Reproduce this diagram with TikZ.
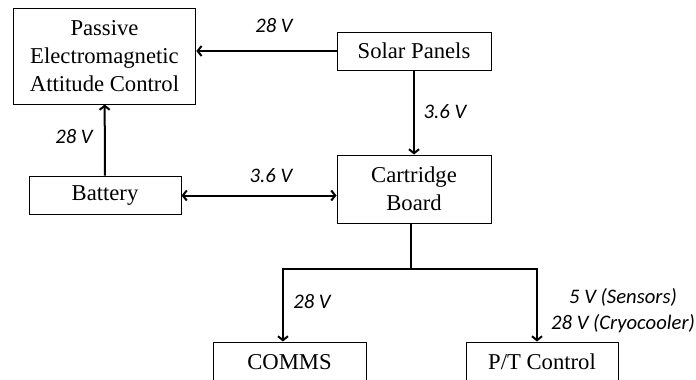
\documentclass[tikz,border=0pt]{standalone}
\usepackage{fontspec}
\setmainfont{Liberation Serif}
\newfontfamily\voltfont{Carlito}
\usetikzlibrary{arrows.meta}
\tikzset{
  block/.style={draw, line width=0.75pt, font=\fontsize{17}{21}\selectfont, align=center, inner sep=0pt},
  feed/.style={line width=1.5pt, -{Straight Barb[length=3pt, width=7.5pt]}},
  volt/.style={font=\voltfont\itshape\fontsize{15.5}{19.5}\selectfont, align=center}
}

\begin{document}
\begin{tikzpicture}[x=0.75pt, y=-0.75pt]
    \useasboundingbox (0,0) rectangle (696,379);

    % Blocks
    \node[block, minimum width=137pt, minimum height=72pt] (peac) at (104.5,56) {Passive\\Electromagnetic\\Attitude Control};
    \node[block, minimum width=115.5pt, minimum height=28.5pt] (sp) at (414,51) {Solar Panels};
    \node[block, minimum width=114pt, minimum height=29pt] (batt) at (105,195.5) {Battery};
    \node[block, minimum width=115.5pt, minimum height=51pt] (cb) at (414,189) {Cartridge\\Board};
    \node[block, minimum width=114.75pt, minimum height=30pt] (comms) at (289.5,362) {COMMS};
    \node[block, minimum width=114pt, minimum height=30pt] (pt) at (542,362) {P/T Control};

    % Power lines
    \draw[feed] (sp.west) -- (sp.west -| peac.east);
    \draw[feed] (sp) -- (cb);
    \draw[feed] (batt) -- (peac);
    \draw[feed, {Straight Barb[length=3pt, width=7.5pt]}-{Straight Barb[length=3pt, width=7.5pt]}] (batt.east) -- (batt.east -| cb.west);
    \coordinate (split) at (411,269);
    \draw[line width=1.5pt] (cb.south -| split) -- (split);
    \draw[feed] (split) -| ([xshift=-4.9pt]comms.north);
    \draw[feed] (split) -| ([xshift=-3.75pt]pt.north);

    % Voltages
    \node[volt] (v1) at (274,26) {28 V};
    \node[volt] (v2) at (445,112) {3.6 V};
    \node[volt] (v3) at (74,137) {28 V};
    \node[volt] (v4) at (271,176) {3.6 V};
    \node[volt] (v5) at (312,302) {28 V};
    \node[volt] (v6) at (623,311) {5 V (Sensors)\\28 V (Cryocooler)};

\end{tikzpicture}
\end{document}
